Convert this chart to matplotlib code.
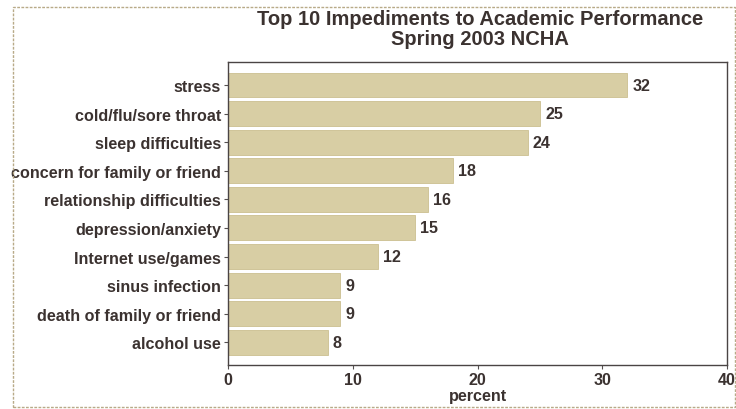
import matplotlib.pyplot as plt
from matplotlib.patches import Rectangle

plt.rcParams['font.family'] = ['Liberation Sans', 'DejaVu Sans']

categories = ["stress", "cold/flu/sore throat", "sleep difficulties",
              "concern for family or friend", "relationship difficulties",
              "depression/anxiety", "Internet use/games", "sinus infection",
              "death of family or friend", "alcohol use"]
percent = [32, 25, 24, 18, 16, 15, 12, 9, 9, 8]
xticks = [0, 10, 20, 30, 40]

txt = "#3b3230"
bar_col = "#d8cea4"
fs = 11.6

fig = plt.figure(figsize=(7.36, 4.10), dpi=100)
ax = fig.add_axes([0.310, 0.107, 0.678, 0.739])

ypos = list(range(len(categories)))
ax.barh(ypos, percent, height=0.87, color=bar_col, edgecolor="#cbbf90", linewidth=0.6)
for y, v in zip(ypos, percent):
    ax.text(v + 0.4, y, str(v), va="center", ha="left", fontsize=fs,
            fontweight="bold", color=txt)

ax.set_yticks(ypos)
ax.set_yticklabels(categories, fontsize=fs, fontweight="bold", color=txt)
ax.set_ylim(9.8, -0.8)
ax.set_xlim(0, 40)
ax.set_xticks(xticks)
ax.set_xticklabels([str(t) for t in xticks], fontsize=fs, fontweight="bold", color=txt)
ax.set_xlabel("percent", fontsize=fs, fontweight="bold", color=txt, labelpad=1)
ax.tick_params(axis="both", length=3, width=0.8, color="#555050", pad=2)
for s in ax.spines.values():
    s.set_color("#4a4444")
    s.set_linewidth(1.0)

fig.text(0.652, 0.928, "Top 10 Impediments to Academic Performance\nSpring 2003 NCHA",
         ha="center", va="center", fontsize=14.5, fontweight="bold", color=txt,
         linespacing=1.05)

# dotted outer frame
fig.patches.append(Rectangle((0.017, 0.004), 0.981, 0.976, transform=fig.transFigure,
                             fill=False, edgecolor="#b8aa88", linestyle=(0, (2, 1)),
                             linewidth=1.0))

fig.savefig("out.png", dpi=100)
